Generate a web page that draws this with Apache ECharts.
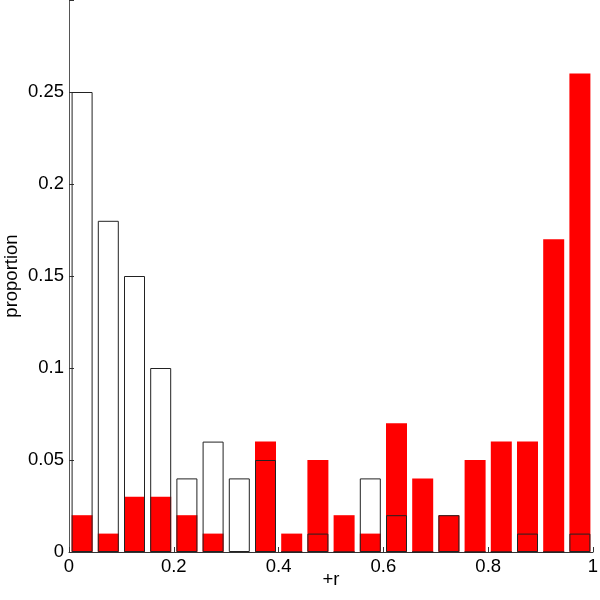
<!DOCTYPE html>
<html>
<head>
<meta charset="utf-8">
<script src="https://cdn.jsdelivr.net/npm/echarts@6/dist/echarts.min.js"></script>
<style>
  html, body { margin: 0; padding: 0; background: #fff; }
  #chart { width: 600px; height: 600px; }
</style>
</head>
<body>
<div id="chart"></div>
<script>
// bin centres along +r
var binCenters = [0.025, 0.075, 0.125, 0.175, 0.225, 0.275, 0.325, 0.375, 0.425, 0.475,
                  0.525, 0.575, 0.625, 0.675, 0.725, 0.775, 0.825, 0.875, 0.925, 0.975];
// filled red bars
var redValues = [0.02, 0.01, 0.03, 0.03, 0.02, 0.01, 0, 0.06, 0.01, 0.05,
                 0.02, 0.01, 0.07, 0.04, 0.02, 0.05, 0.06, 0.06, 0.17, 0.26];
// open (outlined) bars
var openValues = [0.25, 0.18, 0.15, 0.10, 0.04, 0.06, 0.04, 0.05, 0, 0.01,
                  0, 0.04, 0.02, 0, 0.02, 0, 0, 0.01, 0, 0.01];
var xTicks = [0, 0.2, 0.4, 0.6, 0.8, 1];

var font = "'Liberation Sans', Arial, sans-serif";
var chart = echarts.init(document.getElementById("chart"));

function pairs(vals) {
  return binCenters.map(function(x, i) { return [x, vals[i]]; });
}

chart.setOption({
  animation: false,
  grid: { left: 69, right: 7, top: 0, bottom: 48, containLabel: false, outerBoundsMode: "none" },
  xAxis: {
    type: "value",
    min: xTicks[0],
    max: xTicks[xTicks.length - 1],
    interval: 0.2,
    name: "+r",
    nameLocation: "middle",
    nameGap: 18,
    nameMoveOverlap: false,
    nameTextStyle: { fontFamily: font, fontSize: 18.5, color: "#000" },
    axisLine: { show: true, lineStyle: { color: "#333", width: 1 } },
    axisTick: { show: true, inside: true, length: 5, lineStyle: { color: "#333" } },
    axisLabel: { fontFamily: font, fontSize: 18.5, color: "#000", margin: 5 },
    splitLine: { show: false }
  },
  yAxis: {
    type: "value",
    min: 0,
    max: 0.3,
    interval: 0.05,
    name: "proportion",
    nameLocation: "middle",
    nameGap: 48,
    nameMoveOverlap: false,
    nameTextStyle: { fontFamily: font, fontSize: 18.5, color: "#000" },
    axisLine: { show: true, lineStyle: { color: "#555", width: 1 } },
    axisTick: { show: true, inside: true, length: 5, lineStyle: { color: "#333" } },
    axisLabel: {
      fontFamily: font, fontSize: 18.5, color: "#000", margin: 5,
      formatter: function(v) { return v >= 0.3 ? "" : String(+v.toFixed(2)); }
    },
    splitLine: { show: false }
  },
  series: [
    {
      type: "bar",
      data: pairs(redValues),
      barWidth: 21,
      barGap: "-100%",
      itemStyle: { color: "#ff0000" },
      z: 2
    },
    {
      type: "bar",
      data: pairs(openValues),
      barWidth: 21,
      barGap: "-100%",
      itemStyle: { color: "rgba(255,255,255,0)", borderColor: "#222", borderWidth: 1 },
      z: 3
    }
  ]
});
</script>
</body>
</html>
